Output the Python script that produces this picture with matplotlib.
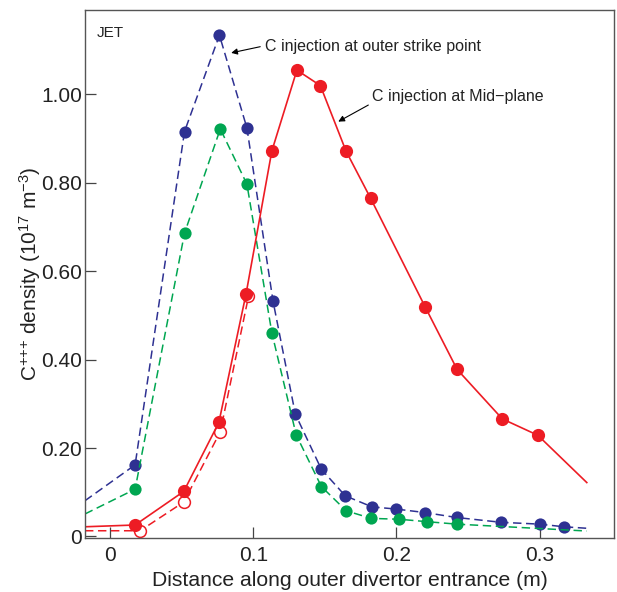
import matplotlib
matplotlib.use('Agg')
import matplotlib.pyplot as plt

plt.rcParams['font.family'] = ['Liberation Sans', 'DejaVu Sans']
plt.rcParams['mathtext.fontset'] = 'custom'
plt.rcParams['mathtext.rm'] = 'Liberation Sans'
plt.rcParams['mathtext.it'] = 'Liberation Sans:italic'

# C+++ density along the outer divertor entrance (10^17 m^-3)
# outer strike point injection (blue), line runs past the first/last markers
blue_x = [0.0175, 0.052, 0.0764, 0.0956, 0.1138, 0.1294, 0.1476, 0.1643,
          0.183, 0.200, 0.2203, 0.242, 0.2734, 0.300, 0.317]
blue_y = [0.162, 0.916, 1.134, 0.924, 0.533, 0.277, 0.152, 0.092,
          0.067, 0.062, 0.054, 0.043, 0.032, 0.028, 0.022]
blue_ends = ([-0.0175, 0.333], [0.081, 0.0186])

green_x = [0.0175, 0.052, 0.077, 0.0956, 0.113, 0.130, 0.1476, 0.165,
           0.1825, 0.202, 0.2215, 0.242]
green_y = [0.107, 0.686, 0.922, 0.797, 0.461, 0.230, 0.113, 0.058,
           0.041, 0.039, 0.0335, 0.028]
green_ends = ([-0.0175, 0.333], [0.051, 0.0124])

# mid-plane injection (red, solid) and its open-circle variant (dashed)
red_x = [0.0175, 0.0515, 0.076, 0.095, 0.113, 0.1305, 0.1469, 0.1648,
         0.182, 0.220, 0.2424, 0.274, 0.2988]
red_y = [0.026, 0.102, 0.258, 0.549, 0.872, 1.055, 1.020, 0.872,
         0.765, 0.520, 0.378, 0.266, 0.229]
red_ends = ([-0.0175, 0.333], [0.022, 0.122])

red_open_x = [0.021, 0.0515, 0.077, 0.0967]
red_open_y = [0.013, 0.078, 0.237, 0.543]
red_open_start = (-0.0175, 0.013)

x_ticks = [0, 0.1, 0.2, 0.3]
x_labels = ['0', '0.1', '0.2', '0.3']
y_ticks = [0, 0.2, 0.4, 0.6, 0.8, 1.0]
y_labels = ['0', '0.20', '0.40', '0.60', '0.80', '1.00']

BLUE = '#2e3192'
GREEN = '#00a651'
RED = '#ed1c24'
TXT = '#222222'

fig = plt.figure(figsize=(6.17, 5.92), dpi=100)
ax = fig.add_axes([85 / 617, 54 / 592, 529 / 617, 528 / 592])


def with_ends(xs, ys, ends):
    return [ends[0][0]] + xs + [ends[0][1]], [ends[1][0]] + ys + [ends[1][1]]


dash = (0, (5.5, 3))
bx, by = with_ends(blue_x, blue_y, blue_ends)
ax.plot(bx, by, color=BLUE, lw=1.1, linestyle=dash)
ax.plot(blue_x, blue_y, 'o', color=BLUE, ms=8.8, mec='none')

gx, gy = with_ends(green_x, green_y, green_ends)
ax.plot(gx, gy, color=GREEN, lw=1.1, linestyle=dash)
ax.plot(green_x, green_y, 'o', color=GREEN, ms=8.8, mec='none')

ax.plot([red_open_start[0]] + red_open_x, [red_open_start[1]] + red_open_y,
        color=RED, lw=1.1, linestyle=dash)
ax.plot(red_open_x, red_open_y, 'o', mfc='white', mec=RED, mew=1.1, ms=8.5)

rx, ry = with_ends(red_x, red_y, red_ends)
ax.plot(rx, ry, color=RED, lw=1.2)
ax.plot(red_x, red_y, 'o', color=RED, ms=9.5, mec='none')

ax.set_xlim(-0.0175, 0.352)
ax.set_ylim(-0.0034, 1.191)
ax.set_xticks(x_ticks)
ax.set_xticklabels(x_labels)
ax.set_yticks(y_ticks)
ax.set_yticklabels(y_labels)

for side in ['top', 'right', 'bottom', 'left']:
    ax.spines[side].set_color('#555555')
    ax.spines[side].set_linewidth(1.0)
ax.tick_params(direction='in', length=8, width=0.9, color='#444444',
               labelsize=15, labelcolor=TXT)
ax.tick_params(axis='y', pad=2)
ax.tick_params(axis='x', pad=6)

ax.set_xlabel('Distance along outer divertor entrance (m)', fontsize=15.2,
              color=TXT, labelpad=4)
ax.set_ylabel(r'C$^{{+}{+}{+}}$ density (10$^{17}$ m$^{-3}$)', fontsize=15,
              color=TXT, labelpad=-1)

ax.text(0.0227, 0.957, 'JET', transform=ax.transAxes, fontsize=11,
        color=TXT, ha='left', va='center')

arrow = dict(arrowstyle='-|>', color='black', lw=0.8, mutation_scale=9,
             shrinkA=0, shrinkB=0)
ax.annotate('', xy=(0.0846, 1.094), xytext=(0.1049, 1.108), arrowprops=arrow)
ax.text(0.1084, 1.108, 'C injection at outer strike point', fontsize=11.5,
        color=TXT, ha='left', va='center')

ax.annotate('', xy=(0.1594, 0.9385), xytext=(0.1804, 0.976), arrowprops=arrow)
ax.text(0.1832, 0.995, 'C injection at Mid\u2212plane', fontsize=11.5,
        color=TXT, ha='left', va='center')

fig.savefig('out.png', dpi=100)
